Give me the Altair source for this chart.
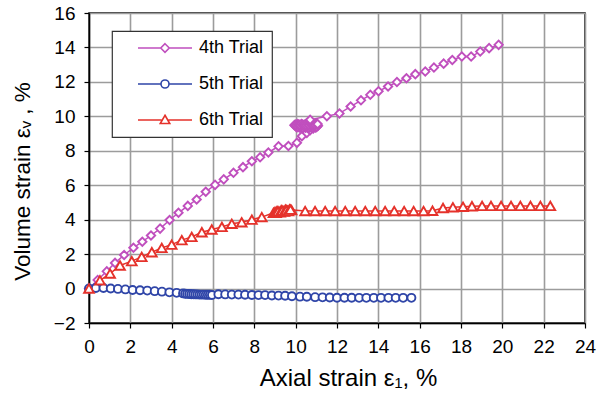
import altair as alt
import pandas as pd

# Axial strain (%) and volume strain (%) for each triaxial trial
trial4_axial = [0.00, 0.42, 0.86, 1.26, 1.70, 2.15, 2.58, 3.00, 3.44, 3.90, 4.33, 4.78, 5.21,
                5.65, 6.10, 6.52, 6.99, 7.45, 7.88, 8.28, 8.68, 9.17, 9.65, 10.06, 10.30, 10.54,
                10.70, 10.85, 11.00, 11.08, 11.02, 10.96, 10.90, 10.84, 10.78, 10.72, 10.66,
                10.60, 10.54, 10.48, 10.42, 10.36, 10.30, 10.24, 10.18, 10.12, 10.06, 10.00,
                9.94, 9.98, 10.04, 10.10, 10.16, 10.22, 10.28, 10.34, 10.40, 10.46, 10.52,
                10.58, 10.64, 10.70, 10.76, 10.82, 10.88, 10.94, 11.00, 11.06, 10.70,
                11.51, 12.12, 12.66, 13.16, 13.61, 14.01, 14.47, 14.90, 15.36, 15.79, 16.27,
                16.69, 17.16, 17.58, 18.04, 18.49, 18.93, 19.36, 19.82]
trial4_volume = [0.00, 0.50, 1.00, 1.49, 1.95, 2.37, 2.72, 3.08, 3.48, 3.98, 4.40, 4.80, 5.17,
                 5.62, 6.02, 6.34, 6.72, 7.05, 7.39, 7.62, 7.90, 8.26, 8.28, 8.46, 8.85, 9.04,
                 9.20, 9.30, 9.38, 9.45, 9.40, 9.36, 9.42, 9.38, 9.34, 9.40, 9.36,
                 9.32, 9.38, 9.34, 9.40, 9.36, 9.32, 9.38, 9.35, 9.40, 9.36, 9.42,
                 9.48, 9.52, 9.50, 9.56, 9.52, 9.50, 9.56, 9.52, 9.48, 9.54, 9.50,
                 9.56, 9.52, 9.58, 9.54, 9.50, 9.56, 9.52, 9.58, 9.55, 9.80,
                 10.01, 10.17, 10.57, 10.93, 11.25, 11.46, 11.73, 11.99, 12.21, 12.45, 12.60,
                 12.83, 13.06, 13.27, 13.47, 13.47, 13.76, 13.96, 14.15]

trial5_axial = [0.00, 0.33, 0.70, 1.05, 1.40, 1.76, 2.11, 2.47, 2.82, 3.18, 3.53, 3.89, 4.24,
                4.55, 4.65, 4.75, 4.85, 4.95, 5.05, 5.15, 5.25, 5.35, 5.45, 5.55, 5.65, 5.75,
                5.85, 5.95, 6.26, 6.59, 6.91, 7.23, 7.55, 7.88, 8.20, 8.52, 8.85, 9.17, 9.49,
                9.82, 10.21, 10.54, 10.94, 11.30, 11.65, 12.00, 12.36, 12.71, 13.07, 13.42,
                13.78, 14.13, 14.49, 14.84, 15.20, 15.60]
trial5_volume = [0.00, 0.03, 0.03, 0.00, -0.02, -0.05, -0.08, -0.10, -0.12, -0.15, -0.18, -0.22,
                 -0.25, -0.28, -0.30, -0.31, -0.32, -0.33, -0.33, -0.34, -0.34, -0.35, -0.35,
                 -0.35, -0.36, -0.36, -0.36, -0.37, -0.33, -0.34, -0.35, -0.35, -0.36, -0.37,
                 -0.38, -0.38, -0.40, -0.41, -0.42, -0.45, -0.47, -0.48, -0.50, -0.51, -0.52,
                 -0.53, -0.53, -0.53, -0.54, -0.54, -0.54, -0.54, -0.54, -0.54, -0.54, -0.54]

trial6_axial = [0.00, 0.53, 1.02, 1.50, 2.07, 2.55, 3.04, 3.52, 4.00, 4.49, 4.97, 5.46, 5.94,
                6.43, 6.91, 7.39, 7.88, 8.36, 8.93, 9.00, 9.10, 9.20, 9.30, 9.40, 9.50, 9.60,
                9.70, 9.80, 9.05, 9.15, 9.25, 9.35, 9.45, 9.55, 9.65, 9.75,
                10.46, 10.94, 11.43, 11.91, 12.40, 12.88, 13.37, 13.85, 14.33, 14.77, 15.25,
                15.71, 16.19, 16.62, 17.13, 17.61, 18.10, 18.53, 19.02, 19.45, 19.94, 20.42,
                20.87, 21.36, 21.84, 22.32]
trial6_volume = [0.00, 0.48, 0.87, 1.34, 1.59, 1.84, 2.11, 2.36, 2.55, 2.81, 3.00, 3.27, 3.43,
                 3.58, 3.76, 3.85, 4.00, 4.15, 4.40, 4.45, 4.50, 4.45, 4.55, 4.50, 4.58, 4.52,
                 4.60, 4.55, 4.40, 4.48, 4.42, 4.52, 4.47, 4.55, 4.50, 4.58,
                 4.50, 4.50, 4.50, 4.50, 4.50, 4.50, 4.50, 4.50, 4.50, 4.50, 4.50,
                 4.50, 4.50, 4.52, 4.68, 4.72, 4.75, 4.78, 4.80, 4.80, 4.80, 4.80,
                 4.80, 4.80, 4.80, 4.80]

trial_names = ["4th Trial", "5th Trial", "6th Trial"]
trial_colors = ["#C04FBE", "#2F45A8", "#E5322B"]
marker_shapes = ["diamond", "circle", "triangle-up"]
marker_sizes = [70, 64, 95]

# Legend glyphs: a short line segment with the open marker in the middle
legend_glyphs = [
    "M-5.4,0H-0.85M0.85,0H5.4M0,-0.85L0.85,0L0,0.85L-0.85,0Z",
    "M-5.4,0H-0.8M0.8,0H5.4M0.8,0A0.8,0.8,0,1,1,-0.8,0A0.8,0.8,0,1,1,0.8,0Z",
    "M-5.4,0H-0.7M0.7,0H5.4M0,-0.95L0.95,0.7L-0.95,0.7Z",
]

x_ticks = list(range(0, 25, 2))
y_ticks = list(range(-2, 17, 2))

frames = []
for name, xs, ys in zip(trial_names,
                        [trial4_axial, trial5_axial, trial6_axial],
                        [trial4_volume, trial5_volume, trial6_volume]):
    frames.append(pd.DataFrame({"trial": name, "axial": xs, "volume": ys,
                                "seq": list(range(len(xs)))}))
data = pd.concat(frames, ignore_index=True)

FONT = "Liberation Sans"

x_enc = alt.X("axial:Q", scale=alt.Scale(domain=[0, 24], nice=False),
              axis=alt.Axis(values=x_ticks, title="Axial strain ε₁, %",
                            titleFontSize=24, titlePadding=10, titleX=259,
                            titleAlign="center"))
y_enc = alt.Y("volume:Q", scale=alt.Scale(domain=[-2, 16], nice=False),
              axis=alt.Axis(values=y_ticks, title="Volume strain εᵥ , %",
                            titleFontSize=22.5,
                            titleX=-67, titleY=168, titleAngle=270,
                            titleBaseline="middle", titleAlign="center"))

color_scale = alt.Scale(domain=trial_names, range=trial_colors)

base = alt.Chart(data)

# Invisible layer that only carries the legend (line + marker glyphs)
legend_layer = base.mark_point(opacity=0, filled=False, strokeWidth=1.6).encode(
    x=x_enc, y=y_enc,
    stroke=alt.Stroke("trial:N", scale=color_scale, legend=alt.Legend(title=None)),
    shape=alt.Shape("trial:N", scale=alt.Scale(domain=trial_names, range=legend_glyphs),
                    legend=alt.Legend(title=None)),
)

lines = base.mark_line(strokeWidth=1.5).encode(
    x=x_enc, y=y_enc,
    color=alt.Color("trial:N", scale=color_scale, legend=None),
    order="seq:Q",
    detail="trial:N",
)

point_layers = []
for name, shape, size in zip(trial_names, marker_shapes, marker_sizes):
    point_layers.append(
        base.transform_filter(alt.datum.trial == name)
        .mark_point(shape=shape, size=size, filled=False, fill="white",
                    fillOpacity=1, strokeWidth=1.9, opacity=1)
        .encode(x=x_enc, y=y_enc,
                stroke=alt.Stroke("trial:N", scale=color_scale, legend=None))
    )

chart = alt.layer(legend_layer, lines, *point_layers).properties(
    width=496, height=310,
    autosize=alt.AutoSizeParams(type="none"),
    padding={"left": 89, "top": 13, "right": 16, "bottom": 78},
).configure_view(
    stroke="black", strokeWidth=1.5
).configure_axis(
    labelFont=FONT, titleFont=FONT, labelFontSize=19, titleFontSize=22,
    labelColor="black", titleColor="black", titleFontWeight="normal",
    domainColor="black", domainWidth=1.5, tickColor="black", tickWidth=1.2,
    tickSize=5, labelPadding=9, titlePadding=8, labelFlush=False,
    gridColor="#9C9C9C", gridWidth=1.6, gridOpacity=1,
).configure_legend(
    orient="none", legendX=23, legendY=18,
    strokeColor="#333333", strokeWidth=1.2, fillColor="white",
    padding=8, rowPadding=18, symbolSize=100, symbolOffset=36,
    labelOffset=25, labelFont=FONT, labelFontSize=18, labelColor="black",
    symbolStrokeWidth=1.6, symbolFillColor="white",
)

chart.save("out.html", embed_options={"renderer": "svg", "actions": False})
